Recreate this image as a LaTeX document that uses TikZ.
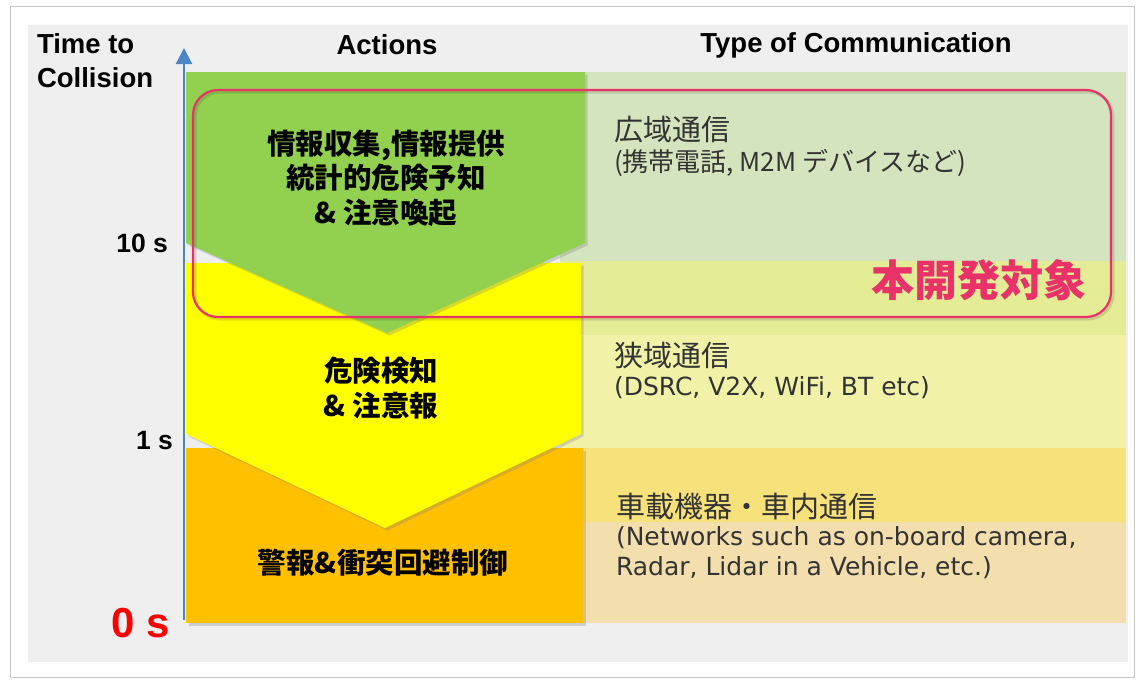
\documentclass[tikz,border=0pt]{standalone}
\usepackage{fontspec}
\setmainfont{Liberation Sans}
\newfontfamily\jp{Noto Sans CJK JP}
\newfontfamily\dv{DejaVu Sans}
\usetikzlibrary{arrows.meta,shadows}
\definecolor{panel}{RGB}{239,239,239}
\definecolor{band1}{RGB}{212,228,190}
\definecolor{band2}{RGB}{228,236,150}
\definecolor{band3}{RGB}{241,242,168}
\definecolor{band4}{RGB}{247,225,122}
\definecolor{band5}{RGB}{243,223,174}
\definecolor{orangeA}{RGB}{255,192,0}
\definecolor{yellowA}{RGB}{255,255,0}
\definecolor{greenA}{RGB}{146,208,80}
\definecolor{pinkA}{RGB}{232,50,105}
\definecolor{axisblue}{RGB}{74,134,200}
\definecolor{txt}{RGB}{51,51,51}
\begin{document}
\begin{tikzpicture}[x=1pt,y=-1pt,
  every node/.style={inner sep=0pt, outer sep=0pt},
  hdr/.style={font=\fontsize{27.5}{32}\selectfont\bfseries},
  tick/.style={font=\fontsize{26.5}{30}\selectfont\bfseries, anchor=base east},
  act/.style={font=\jp\bfseries\fontsize{28.5}{34.5}\selectfont, align=center},
  comjp/.style={font=\jp\fontsize{29}{33}\selectfont, text=txt, anchor=west},
  comsub/.style={font=\jp\fontsize{26}{30}\selectfont, text=txt, anchor=west},
  comlat/.style={font=\dv\fontsize{25}{29}\selectfont, text=txt, anchor=west},
  chev/.style={drop shadow={shadow xshift=2.5pt,shadow yshift=-2.5pt,opacity=0.3}},
]
\useasboundingbox (0,0) rectangle (1140,681);
\fill[white] (0,0) rectangle (1140,681);
\draw[black!22, fill=white] (10,6) rectangle (1134,677);
\fill[panel] (28,25) rectangle (1128,662);
% bands
\fill[band1] (560,72) rectangle (1126,261);
\fill[band2] (560,261) rectangle (1126,335);
\fill[band3] (560,335) rectangle (1126,448);
\fill[band4] (560,448) rectangle (1126,522);
\fill[band5] (560,522) rectangle (1126,623);
% chevrons
\fill[orangeA, chev] (186,448) rectangle (583,623);
\fill[yellowA, chev] (186,263) -- (581,263) -- (581,434) -- (385,528) -- (186,434) -- cycle;
\fill[greenA, chev] (186,72) -- (585,72) -- (585,243) -- (387,333) -- (186,243) -- cycle;
% axis
\coordinate (axb) at (184,620);
\coordinate (axt) at (184,48);
\draw[axisblue, line width=2.2pt, -{Triangle[width=16pt,length=16pt]}] (axb) -- (axt);
% target frame
\draw[black, opacity=0.12, line width=3pt, rounded corners=25pt] (195,92) rectangle (1113,319);
\draw[pinkA, line width=2.2pt, rounded corners=25pt] (193,90) rectangle (1111,317);
% texts
\node[hdr, anchor=base west] (t1) at (37,53) {Time to};
\node[hdr, anchor=base west] (t2) at (37,87) {Collision};
\node[hdr, anchor=base] (act) at (387,54) {Actions};
\node[hdr, anchor=base] (toc) at (856,52) {Type of Communication};
\node[tick] (s10) at (168,252) {10 s};
\node[tick] (s1) at (173,449) {1 s};
\node[tick, text=red, font=\fontsize{42}{46}\selectfont\bfseries] (s0) at (170,637) {0 s};
\node[act] (ga) at (386,178) {情報収集,情報提供\\統計的危険予知\\\& 注意喚起};
\node[act] (ya) at (381,388) {危険検知\\\& 注意報};
\node[act] (oa) at (383,563) {警報\&衝突回避制御};
\node[font=\jp\bfseries\fontsize{43}{48}\selectfont, text=pinkA, anchor=east] (dev) at (1086,280) {本開発対象};
\node[comjp] (w1) at (614,130) {広域通信};
\node[comsub] (w2) at (614,163) {(携帯電話, M2M デバイスなど)};
\node[comjp] (n1) at (614,355) {狭域通信};
\node[comlat] (n2) at (614,388) {(DSRC, V2X, WiFi, BT etc)};
\node[comjp] (v1) at (616,506) {車載機器・車内通信};
\node[comlat] (v2) at (616,538) {(Networks such as on-board camera,};
\node[comlat] (v3) at (616,568) {Radar, Lidar in a Vehicle, etc.)};
\end{tikzpicture}
\end{document}
